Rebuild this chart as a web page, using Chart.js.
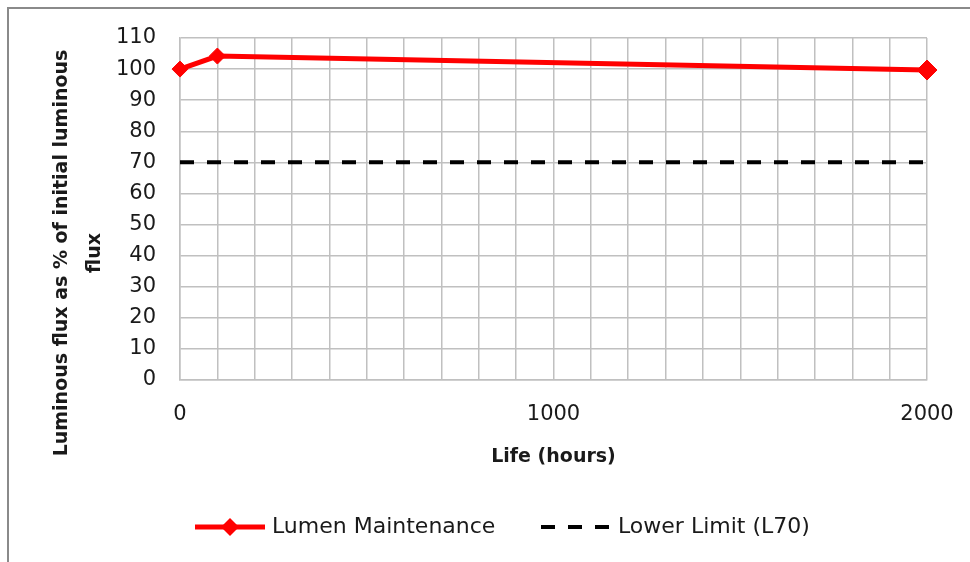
<!DOCTYPE html>
<html>
<head>
<meta charset="utf-8">
<script src="https://cdn.jsdelivr.net/npm/chart.js@4.4.0/dist/chart.umd.min.js"></script>
<style>
  html, body { margin: 0; padding: 0; background: #fff; }
</style>
</head>
<body>
<canvas id="lumenChart" width="970" height="562"></canvas>
<script>
// values
const hours = [0, 100, 2000];
const lumenMaintenance = [100, 104.2, 99.7];
const limitHours = [0, 2000];
const lowerLimit = [70, 70];
const xLabelTicks = [0, 1000, 2000];
const seriesNames = ['Lumen Maintenance', 'Lower Limit (L70)'];
const yTitleLines = ['Luminous flux as % of initial luminous', 'flux'];
const xTitle = 'Life (hours)';

const gridColor = '#c0c0c0';
const textColor = '#1a1a1a';
const tickFont = { family: 'DejaVu Sans', size: 21 };

// frame, axis titles and legend drawn straight on the canvas
const decorations = {
  id: 'decorations',
  beforeDraw(chart) {
    const ctx = chart.ctx;
    ctx.save();
    ctx.strokeStyle = '#8a8a8a';
    ctx.lineWidth = 2;
    ctx.beginPath();
    ctx.moveTo(8, 562);
    ctx.lineTo(8, 8);
    ctx.lineTo(970, 8);
    ctx.stroke();
    ctx.restore();
  },
  afterDraw(chart) {
    const ctx = chart.ctx;
    const area = chart.chartArea;
    ctx.save();
    ctx.fillStyle = textColor;
    ctx.textAlign = 'center';
    ctx.textBaseline = 'middle';
    ctx.font = 'bold 19px "DejaVu Sans"';

    // y title, two lines
    ctx.save();
    ctx.translate(62, 253);
    ctx.rotate(-Math.PI / 2);
    yTitleLines.forEach((line, i) => ctx.fillText(line, 0, i * 33));
    ctx.restore();

    // x title
    ctx.fillText(xTitle, (area.left + area.right) / 2, 457);

    // legend
    const ly = 527;
    ctx.font = '22px "DejaVu Sans"';
    ctx.textAlign = 'left';

    ctx.strokeStyle = '#ff0000';
    ctx.lineWidth = 5;
    ctx.beginPath();
    ctx.moveTo(195, ly);
    ctx.lineTo(265, ly);
    ctx.stroke();
    ctx.fillStyle = '#ff0000';
    ctx.beginPath();
    ctx.moveTo(230, ly - 9);
    ctx.lineTo(239, ly);
    ctx.lineTo(230, ly + 9);
    ctx.lineTo(221, ly);
    ctx.closePath();
    ctx.fill();
    ctx.fillStyle = textColor;
    ctx.fillText(seriesNames[0], 272, ly);

    ctx.strokeStyle = '#000';
    ctx.lineWidth = 4;
    ctx.setLineDash([14, 13]);
    ctx.beginPath();
    ctx.moveTo(541, ly);
    ctx.lineTo(611, ly);
    ctx.stroke();
    ctx.setLineDash([]);
    ctx.fillText(seriesNames[1], 618, ly);
    ctx.restore();
  }
};

new Chart(document.getElementById('lumenChart'), {
  type: 'line',
  data: {
    datasets: [
      {
        label: seriesNames[0],
        data: hours.map((h, i) => ({ x: h, y: lumenMaintenance[i] })),
        borderColor: '#ff0000',
        backgroundColor: '#ff0000',
        borderWidth: 5,
        pointStyle: 'rectRot',
        pointRadius: [8, 8, 10],
        pointBorderWidth: 1,
        tension: 0,
        clip: false
      },
      {
        label: seriesNames[1],
        data: limitHours.map((h, i) => ({ x: h, y: lowerLimit[i] })),
        borderColor: '#000000',
        borderWidth: 4,
        borderDash: [14, 13],
        borderCapStyle: 'butt',
        pointRadius: 0,
        tension: 0
      }
    ]
  },
  options: {
    responsive: false,
    animation: false,
    layout: { padding: { top: 38, right: 43, left: 0, bottom: 0 } },
    plugins: {
      legend: { display: false },
      tooltip: { enabled: false }
    },
    scales: {
      x: {
        type: 'linear',
        min: 0,
        max: 2000,
        grid: { color: gridColor, lineWidth: 1.5, drawTicks: false },
        border: { color: gridColor, width: 1.5 },
        ticks: {
          stepSize: 100,
          autoSkip: false,
          maxRotation: 0,
          padding: 22,
          color: textColor,
          font: tickFont,
          callback: v => xLabelTicks.includes(v) ? String(v) : ''
        },
        afterFit: scale => {
          scale.height = 182;
          scale.paddingLeft = 0;
          scale.paddingRight = 0;
        }
      },
      y: {
        min: 0,
        max: 110,
        grid: { color: gridColor, lineWidth: 1.5, drawTicks: false },
        border: { color: gridColor, width: 1.5 },
        ticks: {
          stepSize: 10,
          padding: 24,
          color: textColor,
          font: tickFont
        },
        afterFit: scale => { scale.width = 180; }
      }
    }
  },
  plugins: [decorations]
});
</script>
</body>
</html>
